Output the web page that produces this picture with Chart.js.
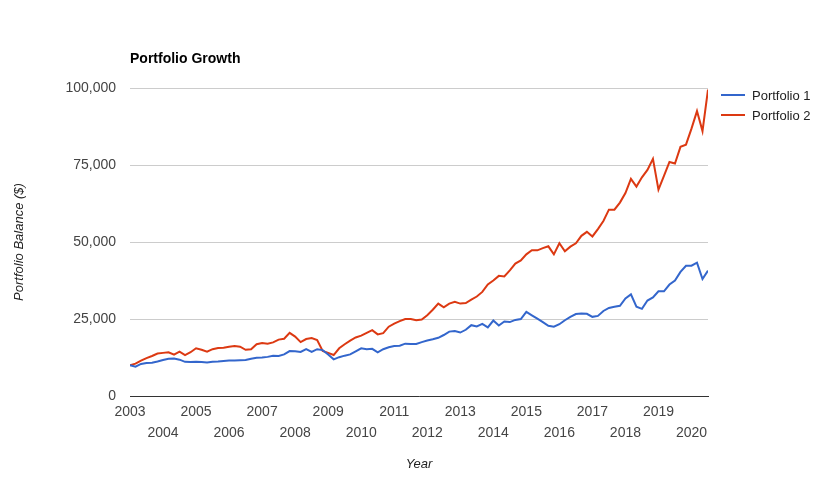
<!DOCTYPE html>
<html>
<head>
<meta charset="utf-8">
<script src="https://cdn.jsdelivr.net/npm/chart.js@4"></script>
<style>
  body { margin: 0; background: #fff; }
  #wrap { width: 837px; height: 479px; }
</style>
</head>
<body>
<div id="wrap"><canvas id="chart" width="837" height="479"></canvas></div>
<script>
/* DATA (thousands of $, one reading every two months, Jan 2003 - Jul 2020) */
const seriesNames = ["Portfolio 1", "Portfolio 2"];
const sampleMonths = [1, 3, 5, 7, 9, 11];
const yearTicks = [2003, 2004, 2005, 2006, 2007, 2008, 2009, 2010, 2011, 2012,
                   2013, 2014, 2015, 2016, 2017, 2018, 2019, 2020];
const balanceTicks = [0, 25000, 50000, 75000, 100000];

const portfolio1 = [
  10.0, 9.5, 10.4, 10.7, 10.8, 11.2,
  11.7, 12.1, 12.2, 11.8, 11.1, 11.0,
  11.1, 11.0, 10.9, 11.1, 11.2, 11.4,
  11.5, 11.5, 11.6, 11.7, 12.1, 12.4,
  12.5, 12.7, 13.1, 13.0, 13.5, 14.6,
  14.5, 14.3, 15.2, 14.3, 15.2, 14.9,
  13.5, 11.9, 12.6, 13.1, 13.5, 14.5,
  15.5, 15.2, 15.3, 14.2, 15.2, 15.8,
  16.2, 16.3, 17.0, 16.9, 16.9, 17.5,
  18.0, 18.4, 18.9, 19.8, 20.9, 21.1,
  20.6, 21.5, 23.0, 22.6, 23.4, 22.3,
  24.5, 22.9, 24.2, 24.0, 24.7, 25.0,
  27.3, 26.2, 25.1, 24.0, 22.8, 22.5,
  23.3, 24.6, 25.7, 26.6, 26.8, 26.7,
  25.7, 26.0, 27.6, 28.6, 29.0, 29.3,
  31.7, 33.0, 29.0, 28.3, 31.0, 32.0,
  34.0, 34.0, 36.2, 37.5, 40.3, 42.3,
  42.3, 43.3, 38.0, 40.7
];

const portfolio2 = [
  10.0, 10.5, 11.5, 12.3, 13.0, 13.8,
  14.0, 14.2, 13.4, 14.4, 13.3, 14.2,
  15.5, 15.0, 14.4, 15.2, 15.6, 15.7,
  16.0, 16.2, 16.0, 15.0, 15.2, 16.8,
  17.2, 17.0, 17.4, 18.3, 18.6, 20.5,
  19.3, 17.5, 18.5, 18.8, 18.2, 14.6,
  14.0, 13.3, 15.5, 16.8, 18.0, 19.0,
  19.6, 20.5, 21.4, 20.0, 20.4, 22.5,
  23.5, 24.3, 25.0, 25.0, 24.6, 24.8,
  26.2, 28.0, 30.0, 28.8, 30.0, 30.6,
  30.0, 30.2, 31.3, 32.3, 33.8, 36.2,
  37.5, 39.0, 38.8, 40.8, 43.0, 44.0,
  46.0, 47.3, 47.3, 48.0, 48.6, 46.0,
  49.6, 47.0, 48.5, 49.6, 52.0, 53.3,
  51.8, 54.2, 56.8, 60.5, 60.5, 62.8,
  65.9, 70.5, 68.0, 71.0, 73.4, 77.0,
  67.0, 71.5, 76.0, 75.5, 80.9, 81.6,
  86.8, 92.5, 86.0, 99.5
];

const colors = ["#3366cc", "#dc3912"];

/* dates as fractional years */
let dates = [];
yearTicks.forEach(y => {
  sampleMonths.forEach(m => {
    if (dates.length < portfolio1.length) dates.push(y + (m - 1) / 12);
  });
});

function points(vals) {
  return vals.map((v, i) => ({ x: dates[i], y: v * 1000 }));
}

/* LEGEND (drawn at the right of the plot) */
const sideLegend = {
  id: "sideLegend",
  afterDraw(chart) {
    const ctx = chart.ctx;
    const left = chart.chartArea.right + 13;
    ctx.save();
    ctx.font = "13px Arial, 'Liberation Sans', sans-serif";
    ctx.textBaseline = "middle";
    seriesNames.forEach((name, i) => {
      const y = chart.chartArea.top + 7 + i * 20;
      ctx.strokeStyle = colors[i];
      ctx.lineWidth = 2;
      ctx.beginPath();
      ctx.moveTo(left, y);
      ctx.lineTo(left + 24, y);
      ctx.stroke();
      ctx.fillStyle = "#222";
      ctx.fillText(name, left + 31, y + 1);
    });
    ctx.restore();
  }
};

const family = "Arial, 'Liberation Sans', sans-serif";

new Chart(document.getElementById("chart"), {
  type: "line",
  data: {
    datasets: [
      { label: seriesNames[0], data: points(portfolio1), borderColor: colors[0],
        borderWidth: 2, pointRadius: 0, tension: 0, fill: false },
      { label: seriesNames[1], data: points(portfolio2), borderColor: colors[1],
        borderWidth: 2, pointRadius: 0, tension: 0, fill: false }
    ]
  },
  options: {
    responsive: false,
    animation: false,
    layout: { padding: { left: 0, top: 0, right: 129, bottom: 0 } },
    plugins: {
      legend: { display: false },
      tooltip: { enabled: false },
      title: {
        display: true,
        text: "Portfolio Growth",
        align: "start",
        fullSize: false,
        color: "#000",
        font: { family: family, size: 14, weight: "bold", lineHeight: 1.2 },
        padding: { top: 51, bottom: 20.2 }
      }
    },
    scales: {
      x: {
        type: "linear",
        min: 2003,
        max: dates[dates.length - 1],
        afterBuildTicks: s => { s.ticks = yearTicks.map(v => ({ value: v })); },
        afterFit: s => { s.height = 83; },
        grid: { display: false, drawTicks: false },
        border: { display: true, color: "#333", width: 1 },
        ticks: {
          color: "#444",
          font: { family: family, size: 14, lineHeight: 1.5 },
          padding: 5.5,
          maxRotation: 0,
          autoSkip: false,
          callback: (v, i) => (i % 2 === 0 ? [String(v), ""] : ["", String(v)])
        },
        title: {
          display: true,
          text: "Year",
          color: "#222",
          font: { family: family, size: 13, style: "italic" },
          padding: { top: 0, bottom: 7 }
        }
      },
      y: {
        min: 0,
        max: 100000,
        afterBuildTicks: s => { s.ticks = balanceTicks.map(v => ({ value: v })); },
        afterFit: s => { s.width = 130; },
        grid: { color: "#cccccc", drawTicks: false },
        border: { display: false },
        ticks: {
          color: "#444",
          font: { family: family, size: 14 },
          padding: 14,
          callback: v => v.toLocaleString("en-US")
        },
        title: {
          display: true,
          text: "Portfolio Balance ($)",
          color: "#222",
          font: { family: family, size: 13, style: "italic" },
          padding: { top: 12, bottom: 0 }
        }
      }
    }
  },
  plugins: [sideLegend]
});
</script>
</body>
</html>
